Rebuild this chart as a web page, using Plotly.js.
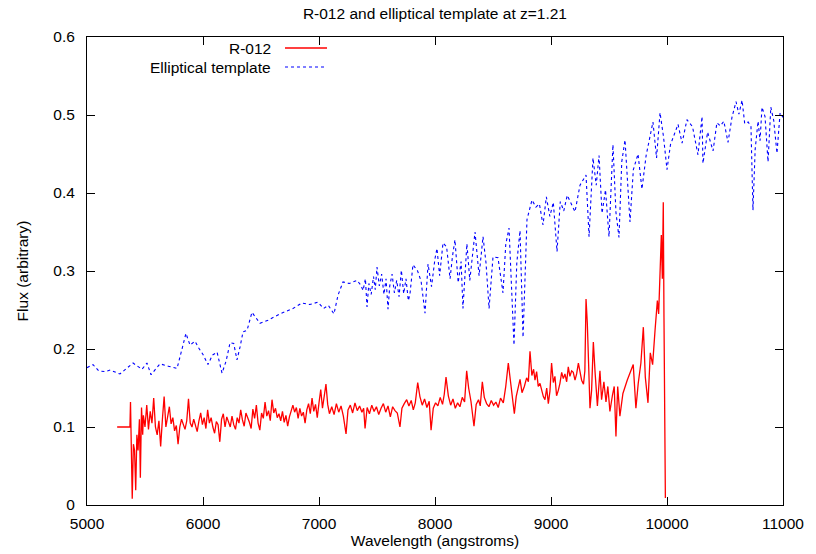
<!DOCTYPE html>
<html>
<head>
<meta charset="utf-8">
<script src="https://cdn.plot.ly/plotly-3.0.1.min.js"></script>
<style>html,body{margin:0;padding:0;background:#fff;}#chart{width:816px;height:554px;}</style>
</head>
<body>
<div id="chart"></div>
<script>
// R-012 observed spectrum (wavelength in angstroms, flux arbitrary)
const redWave = [5260,5370,5375,5390,5400,5410,5420,5430,5440,5452,5460,5470,5480,
5486,5500,5515,5530,5545,5560,5575,5590,5605,5620,5635,5650,5665,5680,5695,5710,5725,5740,5755,5770,5785,5800,
5815,5830,5845,5860,5875,5890,5905,5920,5935,5950,5965,5980,5995,6010,6025,6040,6055,6070,6085,6100,6115,6130,
6145,6160,6175,6190,6205,6220,6235,6250,6265,6280,6295,6310,6325,6340,6355,6370,6385,6400,6415,6430,6445,6460,
6475,6490,6505,6520,6535,6550,6565,6580,6595,6610,6625,6640,6655,6670,6685,6700,6715,6730,6745,6760,6775,6790,
6805,6820,6835,6850,6865,6880,6895,6910,6925,6940,6955,6970,6985,7000,7015,7030,7045,7060,7075,7090,
7110,7130,7150,7170,7190,7210,7233,7250,7270,7290,7310,7330,7350,7370,7385,7397,7415,7435,7455,7475,7495,7515,
7535,7555,7575,7595,7615,7635,7655,7675,7698,7715,7735,7756,7775,7795,7813,7830,7851,7870,7890,7910,7930,7950,
7966,7985,8005,8025,8045,8065,8080,8095,8115,8135,8155,8175,8195,8215,8235,8255,8273,8290,8310,8336,8355,8375,
8390,8408,8425,8445,8465,8485,8505,8525,8545,8565,8589,8610,8632,8650,8665,8684,8700,8718,8733,8750,8770,8790,
8805,8819,8835,8850,8862,8876,8890,8905,8920,8934,8948,8963,8977,8991,9005,9020,9034,9048,9063,9077,9092,9106,
9120,9135,9149,9163,9178,9192,9207,9221,9236,9250,9264,9280,9292,9302,9313,9324,9336,9350,9365,9380,9400,9422,
9436,9456,9474,9490,9508,9530,9545,9560,9575,9594,9620,9657,9680,9709,9732,9752,9775,9796,9813,9836,9856,9876,
9897,9917,9928,9943,9951,9960,9968,9974,9980,9986];
const redFlux = [0.100,0.100,0.132,0.008,0.078,0.070,0.019,0.090,0.070,0.110,0.035,0.125,0.090,
0.115,0.100,0.128,0.097,0.120,0.105,0.137,0.100,0.090,0.108,0.075,0.110,0.139,0.100,0.115,0.126,0.104,0.112,0.095,0.102,0.078,0.100,
0.110,0.103,0.097,0.108,0.136,0.105,0.100,0.110,0.102,0.094,0.108,0.118,0.103,0.112,0.098,0.122,0.105,0.112,0.100,0.092,0.107,0.103,
0.081,0.110,0.117,0.100,0.113,0.105,0.100,0.114,0.103,0.097,0.112,0.105,0.122,0.109,0.101,0.118,0.113,0.106,0.098,0.123,0.111,0.128,
0.105,0.096,0.118,0.111,0.132,0.114,0.121,0.108,0.135,0.118,0.124,0.112,0.117,0.108,0.120,0.106,0.115,0.101,0.113,0.121,0.128,0.119,
0.125,0.111,0.124,0.114,0.119,0.105,0.122,0.130,0.117,0.137,0.120,0.129,0.112,0.131,0.148,0.124,0.137,0.155,0.129,0.117,
0.126,0.116,0.130,0.119,0.127,0.114,0.091,0.122,0.128,0.118,0.131,0.121,0.127,0.119,0.124,0.098,0.125,0.117,0.128,0.120,0.126,0.116,
0.124,0.130,0.119,0.127,0.113,0.126,0.121,0.118,0.100,0.124,0.130,0.135,0.127,0.134,0.122,0.131,0.157,0.139,0.128,0.136,0.125,0.133,
0.096,0.124,0.131,0.127,0.138,0.129,0.142,0.164,0.140,0.128,0.136,0.124,0.131,0.126,0.138,0.132,0.172,0.150,0.133,0.101,0.129,0.135,
0.127,0.158,0.138,0.130,0.126,0.134,0.128,0.132,0.125,0.137,0.131,0.152,0.182,0.160,0.148,0.117,0.139,0.150,0.161,0.144,0.152,0.163,
0.158,0.197,0.166,0.174,0.160,0.171,0.152,0.156,0.147,0.139,0.135,0.150,0.130,0.146,0.182,0.157,0.165,0.140,0.147,0.156,0.170,0.162,
0.168,0.158,0.177,0.165,0.172,0.170,0.160,0.168,0.182,0.171,0.160,0.155,0.172,0.264,0.233,0.182,0.124,0.147,0.209,0.170,0.127,0.172,
0.135,0.158,0.132,0.152,0.120,0.141,0.152,0.088,0.152,0.114,0.143,0.160,0.168,0.180,0.124,0.156,0.182,0.228,0.164,0.131,0.195,0.180,
0.224,0.262,0.245,0.301,0.346,0.290,0.388,0.240,0.036,0.009];

// Elliptical template redshifted to z=1.21
const blueWave = [5000,5052,5100,5155,5200,5284,5340,5397,5474,5517,5552,5629,5700,5776,5802,5853,5888,5931,5960,6000,
6043,6080,6121,6164,6200,6233,6265,6293,6320,6345,6380,6422,6491,6560,6664,6776,6853,6920,6991,7040,7080,7129,7164,
7207,7260,7328,7360,7380,7400,7414,7430,7450,7470,7485,7500,7520,7540,7560,7578,7595,7610,7630,7650,7670,7690,7710,
7730,7750,7770,7784,7810,7850,7880,7914,7940,7970,8000,8017,8040,8069,8100,8130,8150,8172,8200,8225,8241,8275,8300,
8325,8345,8380,8414,8440,8466,8500,8543,8586,8610,8638,8681,8705,8733,8759,8793,8836,8870,8900,8931,8960,8990,9020,
9052,9080,9110,9140,9170,9207,9250,9302,9328,9362,9390,9414,9440,9470,9500,9534,9560,9586,9610,9638,9681,9710,9750,
9784,9820,9850,9879,9910,9940,9970,10000,10030,10060,10095,10130,10172,10220,10267,10302,10310,10350,10397,10430,
10460,10490,10526,10560,10595,10620,10647,10670,10700,10724,10741,10760,10785,10802,10819,10845,10871,10895,10920,
10948,10975,11000];
const blueFlux = [0.176,0.180,0.172,0.171,0.173,0.168,0.175,0.182,0.174,0.182,0.167,0.181,0.178,0.175,0.190,0.220,0.205,0.210,0.202,0.193,
0.180,0.192,0.196,0.169,0.185,0.208,0.207,0.186,0.203,0.222,0.224,0.247,0.233,0.237,0.245,0.252,0.259,0.257,0.260,0.252,0.256,0.245,0.269,
0.286,0.284,0.288,0.282,0.275,0.290,0.254,0.284,0.270,0.293,0.276,0.305,0.281,0.296,0.270,0.290,0.251,0.281,0.296,0.272,0.288,0.267,0.301,
0.271,0.290,0.262,0.270,0.308,0.300,0.287,0.246,0.309,0.280,0.316,0.329,0.294,0.336,0.331,0.290,0.318,0.340,0.285,0.312,0.252,0.335,0.288,
0.324,0.350,0.294,0.344,0.310,0.252,0.318,0.317,0.272,0.334,0.355,0.205,0.310,0.352,0.215,0.366,0.391,0.382,0.386,0.359,0.395,0.370,0.388,
0.325,0.389,0.377,0.397,0.388,0.376,0.410,0.423,0.344,0.445,0.410,0.448,0.374,0.404,0.344,0.462,0.375,0.343,0.440,0.468,0.363,0.430,0.450,
0.405,0.448,0.470,0.491,0.445,0.503,0.472,0.430,0.462,0.475,0.488,0.464,0.494,0.485,0.449,0.498,0.438,0.478,0.454,0.490,
0.486,0.492,0.465,0.497,0.517,0.501,0.519,0.489,0.491,0.485,0.378,0.456,0.492,0.467,0.510,0.498,0.440,0.510,0.493,
0.451,0.503,0.497];

const titleText = "R-012 and elliptical template at z=1.21";
const xTitle = "Wavelength (angstroms)";
const yTitle = "Flux (arbitrary)";
const seriesNames = ["R-012", "Elliptical template"];
const xTicks = [5000,6000,7000,8000,9000,10000,11000];
const yTicks = [0,0.1,0.2,0.3,0.4,0.5,0.6];

const FONT = "Liberation Sans, Arial, sans-serif";
const FS = 15.5;
const RED = "#ff0000", BLUE = "#0000ff";

const traces = [
  {x: redWave, y: redFlux, type: "scatter", mode: "lines", name: seriesNames[0],
   line: {color: RED, width: 1.3}, showlegend: false},
  {x: blueWave, y: blueFlux, type: "scatter", mode: "lines", name: seriesNames[1],
   line: {color: BLUE, width: 1.1, dash: "dot"}, showlegend: false}
];

const axisCommon = {
  showgrid: false, zeroline: false, showline: true, linecolor: "#000", linewidth: 1,
  mirror: "ticks", ticks: "inside", ticklen: 8, tickwidth: 1, tickcolor: "#000",
  tickfont: {family: FONT, size: FS, color: "#000"}
};

// Legend drawn gnuplot-style: text right-aligned, sample line after it
const legX1 = (285 - 87) / 696, legX2 = (327 - 87) / 696, legTX = (273 - 87) / 696;
const legY = [(505 - 48) / 468, (505 - 67) / 468];

const layout = {
  width: 816, height: 554,
  margin: {l: 87, r: 33, t: 37, b: 49},
  paper_bgcolor: "#fff", plot_bgcolor: "#fff",
  font: {family: FONT, size: FS, color: "#000"},
  title: {text: titleText, x: 0.533, xanchor: "center", y: 0.976, yanchor: "middle",
          font: {family: FONT, size: FS, color: "#000"}},
  xaxis: Object.assign({}, axisCommon, {
    range: [5000, 11000], tickvals: xTicks, ticktext: xTicks.map(String),
    ticklabelstandoff: 4,
    title: {text: xTitle, standoff: 4, font: {family: FONT, size: FS}}
  }),
  yaxis: Object.assign({}, axisCommon, {
    range: [0, 0.6], tickvals: yTicks, ticktext: yTicks.map(v => v === 0 ? "0" : v.toFixed(1)),
    ticklabelstandoff: 8,
    title: {text: yTitle, standoff: 20, font: {family: FONT, size: FS}}
  }),
  shapes: [
    {type: "line", xref: "paper", yref: "paper", x0: legX1, x1: legX2, y0: legY[0], y1: legY[0],
     line: {color: RED, width: 1.3}},
    {type: "line", xref: "paper", yref: "paper", x0: legX1, x1: legX2, y0: legY[1], y1: legY[1],
     line: {color: BLUE, width: 1.1, dash: "dot"}}
  ],
  annotations: [
    {xref: "paper", yref: "paper", x: legTX, y: legY[0], xanchor: "right", yanchor: "middle",
     text: seriesNames[0], showarrow: false, font: {family: FONT, size: FS, color: "#000"}},
    {xref: "paper", yref: "paper", x: legTX, y: legY[1], xanchor: "right", yanchor: "middle",
     text: seriesNames[1], showarrow: false, font: {family: FONT, size: FS, color: "#000"}}
  ]
};

Plotly.newPlot("chart", traces, layout, {staticPlot: true, displayModeBar: false});
</script>
</body>
</html>
